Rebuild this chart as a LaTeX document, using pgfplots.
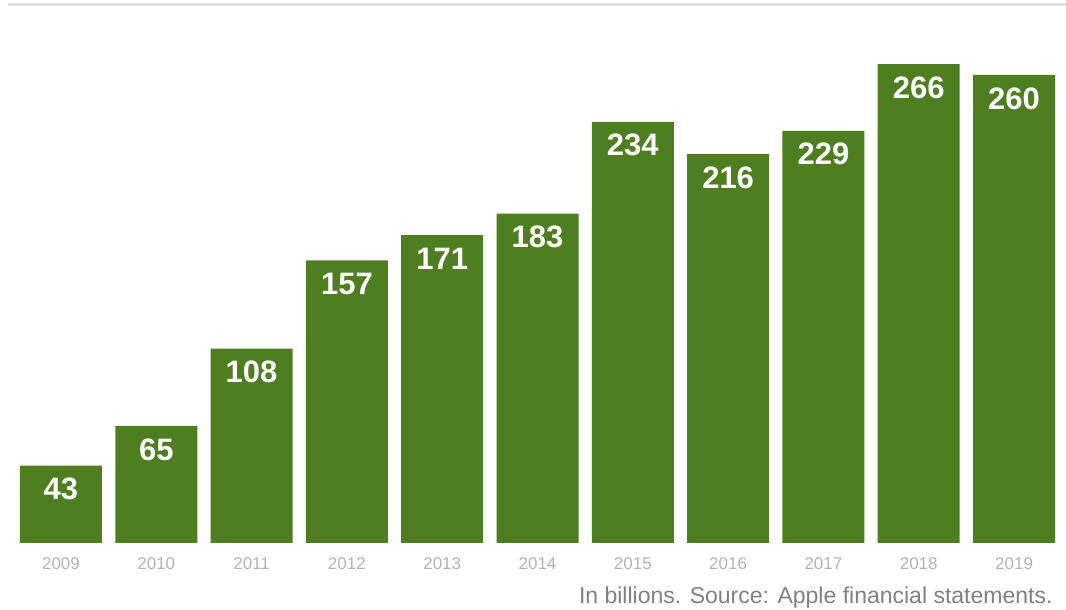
\documentclass[border=0pt]{standalone}
\usepackage{pgfplots}
\pgfplotsset{compat=1.18}
\usepackage{fontspec}
\setmainfont{Liberation Sans}
\definecolor{bargreen}{HTML}{4E7E1F}
\begin{document}
\begin{tikzpicture}[x=1pt,y=1pt]
\useasboundingbox (-20,-67) rectangle (1046,543);
\fill[gray!25] (-12,537) rectangle (1046,540);
\begin{axis}[
  at={(0,0)}, anchor=south west,
  scale only axis,
  width=1036pt, height=540pt,
  xmin=-0.43, xmax=10.44,
  ymin=0, ymax=300,
  axis line style={draw=none},
  ytick=\empty,
  xtick=data,
  xticklabels={2009,2010,2011,2012,2013,2014,2015,2016,2017,2018,2019},
  xticklabel style={font=\fontsize{17}{17}\selectfont, text=black!30, yshift=-11pt},
  major tick length=0pt,
  /pgf/number format/assume math mode=true,
  ybar, bar width=82pt, bar shift=0pt,
  nodes near coords,
  every node near coord/.append style={anchor=north, yshift=-9pt, text=white, font=\fontsize{31}{31}\bfseries\selectfont},
  clip=false,
]
\addplot[fill=bargreen, draw=none] coordinates {
(0,43) (1,65) (2,108) (3,157) (4,171) (5,183) (6,234) (7,216) (8,229) (9,266) (10,260)};
\end{axis}
\node[anchor=east, text=black!50, font=\fontsize{23}{23}\selectfont] at (1036,-55) {In billions. Source: Apple financial statements.};
\end{tikzpicture}
\end{document}
